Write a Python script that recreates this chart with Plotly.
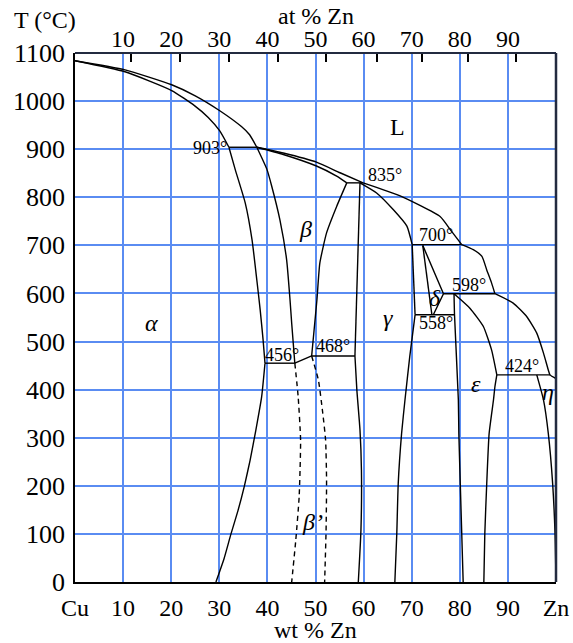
import plotly.graph_objects as go

# ---------------- axis / tick data ----------------
wt_ticks = [0, 10, 20, 30, 40, 50, 60, 70, 80, 90, 100]
wt_tick_text = ["Cu", "10", "20", "30", "40", "50", "60", "70", "80", "90", "Zn"]
T_ticks = [0, 100, 200, 300, 400, 500, 600, 700, 800, 900, 1000, 1100]
at_label_pos = [10, 20, 30, 40, 50, 60, 70, 80, 90]
at_label_text = ["10", "20", "30", "40", "50", "60", "70", "80", "90"]
at_tick_pos = [11.6, 21.8, 32.0, 42.3, 52.1, 62.7, 72.2, 81.6, 91.6]

# ---------------- phase boundaries (wt % Zn, T in °C) ----------------
liq_a_wt = [0, 10.4, 20.1, 25.0, 30.1, 34.6, 36.3, 37.8]
liq_a_T = [1084, 1065, 1034, 1011, 980, 947, 930, 904]
sol_alpha_wt = [0, 10.4, 20.1, 24.9, 27.7, 30.1, 32.0]
sol_alpha_T = [1084, 1061, 1022, 990, 966, 938, 904]
tie903_wt = [32.0, 37.8]
tie903_T = [904, 904]
alpha_hi_wt = [32.0, 33.3, 35.4, 36.8, 37.8, 38.5, 39.1, 39.5]
alpha_hi_T = [904, 858, 788, 712, 628, 566, 504, 455]
alpha_lo_wt = [39.5, 38.8, 37.6, 36.4, 35.2, 33.9, 32.4, 31.0, 29.3]
alpha_lo_T = [455, 385, 316, 253, 199, 149, 99, 49, 0]
beta_left_wt = [37.8, 39.9, 40.9, 42.6, 44.0, 44.7, 45.05, 45.7]
beta_left_T = [904, 858, 823, 753, 670, 587, 538, 455]
tie456_wt = [39.5, 45.7]
tie456_T = [455, 455]
link_wt = [45.7, 49.2]
link_T = [455, 470]
tie468_wt = [49.2, 58.2]
tie468_T = [470, 470]
beta_right_wt = [49.2, 50.3, 50.9, 52.3, 54.4, 56.5]
beta_right_T = [470, 587, 663, 726, 781, 830]
bp_left_wt = [45.7, 46.4, 46.9, 46.6, 45.9, 45.05]
bp_left_T = [455, 385, 295, 177, 87, 0]
bp_right_wt = [49.2, 50.6, 51.5, 52.1, 52.3, 52.2, 51.9]
bp_right_T = [470, 420, 352, 295, 212, 108, 0]
gam_left_hi_wt = [59.25, 58.2]
gam_left_hi_T = [830, 470]
gam_left_lo_wt = [58.2, 58.6, 59.25, 59.55, 59.45, 58.9]
gam_left_lo_T = [470, 399, 316, 233, 108, 0]
liq_b1_wt = [37.8, 43.3, 50.2, 55.1, 59.9]
liq_b1_T = [904, 892, 873, 851, 830]
liq_b2_wt = [59.9, 67.6, 75.9, 78.3, 80.4]
liq_b2_T = [830, 803, 760, 729, 701.5]
sol_beta_wt = [37.8, 43.3, 50.2, 54.4, 56.5]
sol_beta_T = [904, 889, 865, 844, 830]
tie835_wt = [56.5, 59.9]
tie835_T = [830, 830]
sol_gam_wt = [59.25, 62.7, 66.2, 69.0, 70.1]
sol_gam_T = [830, 809, 774, 740, 701.5]
gam_right_wt = [70.1, 70.7]
gam_right_T = [701.5, 555.6]
gam_solvus_wt = [70.7, 69.6, 68.6, 67.9, 67.2, 66.9, 66.5]
gam_solvus_T = [555.6, 469, 378.5, 309, 205, 100.6, 0]
tie700_wt = [70.1, 80.4]
tie700_T = [701.5, 701.5]
delta_a_wt = [72.3, 74.2]
delta_a_T = [700, 555.6]
delta_b_wt = [72.3, 76.6, 74.5]
delta_b_T = [700, 599.4, 555.6]
tie558_wt = [70.7, 78.8]
tie558_T = [555.6, 555.6]
tie598_wt = [76.6, 87.3]
tie598_T = [599.4, 599.4]
eps_left_wt = [78.8, 78.9, 79.7, 79.8, 80.2, 80.7]
eps_left_T = [599.4, 555.6, 378.5, 309, 170, 0]
eps_right_hi_wt = [78.8, 82.1, 84.9, 86.6, 87.7]
eps_right_hi_T = [599.4, 569.4, 531.3, 482.7, 430.6]
eps_right_lo_wt = [87.7, 87.3, 87.0, 86.1, 85.6, 85.2, 85.0]
eps_right_lo_T = [430.6, 406, 378.5, 309, 205, 100.6, 0]
liq_c_wt = [80.4, 82.8, 84.6, 85.6, 86.6, 87.3]
liq_c_T = [701.5, 691, 677, 649, 622, 599.4]
liq_d_wt = [87.3, 91.1, 93.9, 96.0, 97.4, 98.4, 98.75, 100]
liq_d_T = [599.4, 580, 552, 517.5, 476, 441, 430.6, 423]
tie424_wt = [87.7, 98.75]
tie424_T = [430.6, 430.6]
eta_left_wt = [96.0, 97.4, 98.4, 99.3, 99.8, 100]
eta_left_T = [430.6, 378.5, 309, 205, 100.6, 0]

# (x, y, smooth, dashed)
lines = [
    (liq_a_wt, liq_a_T, True, False),
    (sol_alpha_wt, sol_alpha_T, True, False),
    (tie903_wt, tie903_T, False, False),
    (alpha_hi_wt, alpha_hi_T, True, False),
    (alpha_lo_wt, alpha_lo_T, True, False),
    (beta_left_wt, beta_left_T, True, False),
    (tie456_wt, tie456_T, False, False),
    (link_wt, link_T, False, False),
    (tie468_wt, tie468_T, False, False),
    (beta_right_wt, beta_right_T, True, False),
    (bp_left_wt, bp_left_T, True, True),
    (bp_right_wt, bp_right_T, True, True),
    (gam_left_hi_wt, gam_left_hi_T, False, False),
    (gam_left_lo_wt, gam_left_lo_T, True, False),
    (liq_b1_wt, liq_b1_T, True, False),
    (liq_b2_wt, liq_b2_T, True, False),
    (sol_beta_wt, sol_beta_T, True, False),
    (tie835_wt, tie835_T, False, False),
    (sol_gam_wt, sol_gam_T, True, False),
    (gam_right_wt, gam_right_T, False, False),
    (gam_solvus_wt, gam_solvus_T, True, False),
    (tie700_wt, tie700_T, False, False),
    (delta_a_wt, delta_a_T, False, False),
    (delta_b_wt, delta_b_T, False, False),
    (tie558_wt, tie558_T, False, False),
    (tie598_wt, tie598_T, False, False),
    (eps_left_wt, eps_left_T, True, False),
    (eps_right_hi_wt, eps_right_hi_T, True, False),
    (eps_right_lo_wt, eps_right_lo_T, True, False),
    (liq_c_wt, liq_c_T, True, False),
    (liq_d_wt, liq_d_T, True, False),
    (tie424_wt, tie424_T, False, False),
    (eta_left_wt, eta_left_T, True, False),
]

temp_labels = [
    ("903°", 32.0, 903.5, "right"),
    ("835°", 64.4, 847, "center"),
    ("700°", 75.1, 722, "center"),
    ("598°", 81.9, 618, "center"),
    ("558°", 75.1, 539, "center"),
    ("456°", 43.0, 472, "center"),
    ("468°", 53.6, 491, "center"),
    ("424°", 92.9, 449, "center"),
]
phase_labels = [
    ("<i>α</i>", 16.0, 539),
    ("<i>β</i>", 47.9, 735),
    ("<i>γ</i>", 65.1, 549),
    ("<i>δ</i>", 74.8, 591),
    ("<i>ε</i>", 83.4, 412),
    ("<i>η</i>", 98.3, 395),
    ("<i>β’</i>", 49.3, 124),
    ("L", 67.0, 947),
]

FONT = "Liberation Serif, Times New Roman, Times, serif"
GRID = "#5a8cf2"
FRAME = "#232b40"

fig = go.Figure()
for xs, ys, smooth, dashed in lines:
    fig.add_trace(go.Scatter(
        x=xs, y=ys, mode="lines",
        line=dict(color="black", width=1.4,
                  shape="spline" if smooth else "linear",
                  smoothing=0.5 if smooth else 0,
                  dash="5px,4px" if dashed else "solid"),
        hoverinfo="skip", showlegend=False,
    ))
fig.add_trace(go.Scatter(x=[], y=[], xaxis="x2", showlegend=False))
fig.add_trace(go.Scatter(x=[], y=[], xaxis="x3", showlegend=False))

annotations = []
for txt, x, y, xa in temp_labels:
    annotations.append(dict(x=x, y=y, xref="x", yref="y", text=txt, showarrow=False,
                            xanchor=xa, yanchor="middle",
                            font=dict(family=FONT, size=18, color="black")))
for txt, x, y in phase_labels:
    annotations.append(dict(x=x, y=y, xref="x", yref="y", text=txt, showarrow=False,
                            xanchor="center", yanchor="middle",
                            font=dict(family=FONT, size=24, color="black")))
annotations += [
    dict(x=0.5, y=1, xref="paper", yref="paper", yshift=37, text="at % Zn",
         showarrow=False, xanchor="center", yanchor="middle",
         font=dict(family=FONT, size=24, color="black")),
    dict(x=0.5, y=0, xref="paper", yref="paper", yshift=-48, text="wt % Zn",
         showarrow=False, xanchor="center", yanchor="middle",
         font=dict(family=FONT, size=24, color="black")),
    dict(x=0, y=1, xref="paper", yref="paper", xshift=-30, yshift=33, text="T (°C)",
         showarrow=False, xanchor="center", yanchor="middle",
         font=dict(family=FONT, size=24, color="black")),
]

fig.update_layout(
    width=573, height=643, autosize=False,
    margin=dict(l=75, r=17, t=53, b=61, pad=0),
    paper_bgcolor="white", plot_bgcolor="white",
    font=dict(family=FONT, size=24, color="black"),
    xaxis=dict(range=[0, 100], tickvals=wt_ticks, ticktext=wt_tick_text,
               showgrid=True, gridcolor=GRID, gridwidth=1.5, zeroline=False,
               showline=True, linecolor="black", linewidth=2, ticks="",
               automargin=False,
               ticklabelstandoff=3, tickfont=dict(family=FONT, size=24)),
    yaxis=dict(range=[0, 1100], tickvals=T_ticks, showgrid=True, gridcolor=GRID,
               gridwidth=1.5, zeroline=False, showline=True, linecolor="black",
               linewidth=1.5, ticks="", ticklabelstandoff=3, automargin=False,
               tickfont=dict(family=FONT, size=26)),
    xaxis2=dict(range=[0, 100], overlaying="x", side="top", anchor="y",
                tickvals=at_label_pos, ticktext=at_label_text, showgrid=False,
                zeroline=False, showline=False, ticks="", ticklabelstandoff=0,
                automargin=False, tickfont=dict(family=FONT, size=24)),
    xaxis3=dict(range=[0, 100], overlaying="x", side="top", anchor="y",
                tickvals=at_tick_pos, showticklabels=False, showgrid=False,
                zeroline=False, showline=False, ticks="inside", ticklen=9,
                automargin=False, tickwidth=1.5, tickcolor="black"),
    annotations=annotations,
    shapes=[
        dict(type="line", xref="paper", yref="paper", x0=0, x1=1, y0=1, y1=1,
             line=dict(color=FRAME, width=2), layer="above"),
        dict(type="line", xref="paper", yref="paper", x0=1, x1=1, y0=0, y1=1,
             line=dict(color=FRAME, width=2.5), layer="above"),
    ],
)

fig.write_html("out.html")
